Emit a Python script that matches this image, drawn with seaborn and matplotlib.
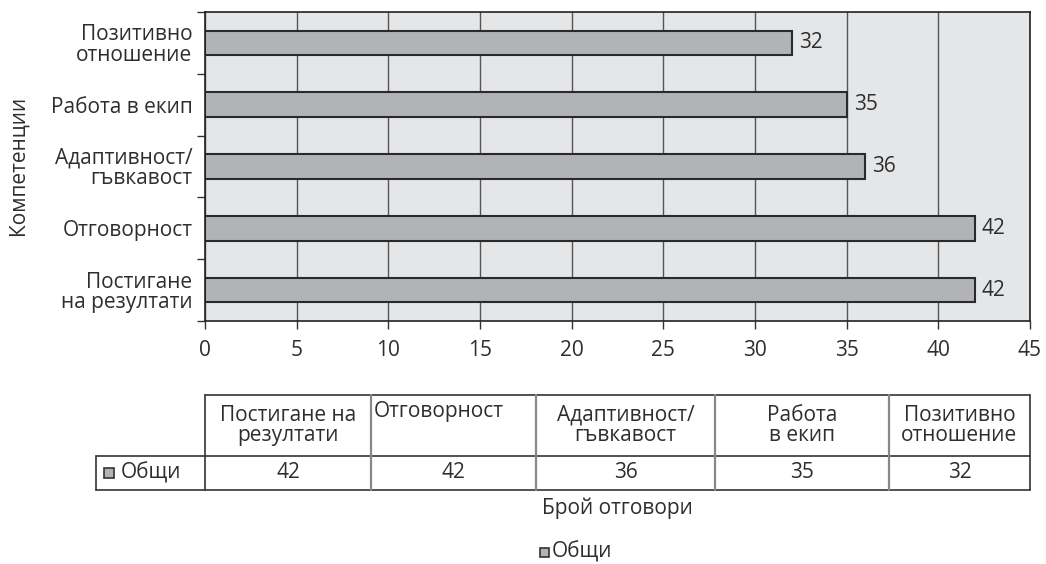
import matplotlib
matplotlib.use("Agg")
import matplotlib.pyplot as plt
from matplotlib.patches import Rectangle
from matplotlib.lines import Line2D
import seaborn as sns
import pandas as pd

# Competencies, listed from the top bar downwards
competencies = ["Позитивно\nотношение", "Работа в екип", "Адаптивност/\nгъвкавост",
                "Отговорност", "Постигане\nна резултати"]
counts = [32, 35, 36, 42, 42]

# Data table underneath (column order as in the table)
table_headers = ["Постигане на\nрезултати", "Отговорност", "Адаптивност/\nгъвкавост",
                 "Работа\nв екип", "Позитивно\nотношение"]
table_values = [42, 42, 36, 35, 32]
series_name = "Общи"
x_title = "Брой отговори"
y_title = "Компетенции"
x_ticks = list(range(0, 46, 5))

sns.set_theme(style="white")
plt.rcParams["font.family"] = ["Open Sans", "DejaVu Sans"]

BAR = "#b2b3b7"
EDGE = "#2a2a2a"
BG = "#e5e6e8"
TXT = "#2e2e2e"
FS = 15      # category / header text
NFS = 15     # numbers

W, H = 1046, 564
fig = plt.figure(figsize=(W / 100, H / 100), dpi=100)

# chart area in pixel coordinates
L, R, T, B = 205, 1030, 12, 321
ax = fig.add_axes([L / W, 1 - B / H, (R - L) / W, (B - T) / H])
ax.set_facecolor(BG)

df = pd.DataFrame({"competency": competencies, "count": counts})
sns.barplot(data=df, x="count", y="competency", orient="h", color=BAR,
            saturation=1, width=0.4, edgecolor=EDGE, linewidth=1.5, ax=ax)

ax.set_xlim(0, 45)
ax.set_ylim(len(competencies) - 0.5, -0.5)
ax.set_xticks(x_ticks)
ax.set_xticklabels([str(t) for t in x_ticks], fontsize=NFS, color=TXT)
ax.tick_params(axis="x", direction="out", length=6, width=1, color="#333", pad=8,
               bottom=True)
ax.set_yticks(range(len(competencies)))
ax.set_yticklabels(competencies, fontsize=FS, color=TXT, linespacing=0.95)
ax.tick_params(axis="y", length=0, pad=9)
ax.set_yticks([i + 0.5 for i in range(-1, len(competencies))], minor=True)
ax.tick_params(axis="y", which="minor", direction="out", length=6, width=1,
               color="#333", left=True)
ax.xaxis.grid(True, color="#555555", linewidth=1)
ax.set_axisbelow(True)
for side, sp in ax.spines.items():
    sp.set_visible(True)
    sp.set_color("#222")
    sp.set_linewidth(1.2)
ax.set_xlabel("")
ax.set_ylabel("")

for cont in ax.containers:
    ax.bar_label(cont, labels=[str(v) for v in counts], padding=5,
                 fontsize=NFS, color=TXT)

# overlay in pixel coordinates for the axis title, data table and legend
ov = fig.add_axes([0, 0, 1, 1])
ov.set_xlim(0, W)
ov.set_ylim(H, 0)
ov.axis("off")

ov.text(18, 165, y_title, rotation=90, ha="center", va="center", fontsize=FS,
        color=TXT)

col_edges = [205, 371, 536, 715, 889, 1030]
top, mid, bot = 395, 456, 490
label_left = 96
line_kw = dict(color="#333", linewidth=1.2)
vline_kw = dict(color="#888", linewidth=1.6)

ov.add_line(Line2D([col_edges[0], col_edges[-1]], [top, top], **line_kw))
ov.add_line(Line2D([label_left, col_edges[-1]], [mid, mid], **line_kw))
ov.add_line(Line2D([label_left, col_edges[-1]], [bot, bot], **line_kw))
ov.add_line(Line2D([label_left, label_left], [mid, bot], **line_kw))
ov.add_line(Line2D([col_edges[0], col_edges[0]], [top, bot], **line_kw))
ov.add_line(Line2D([col_edges[-1], col_edges[-1]], [top, bot], **line_kw))
for xe in col_edges[1:-1]:
    ov.add_line(Line2D([xe, xe], [top, bot], **vline_kw))

for i, (hdr, val) in enumerate(zip(table_headers, table_values)):
    cx = (col_edges[i] + col_edges[i + 1]) / 2
    if "\n" in hdr:
        ov.text(cx, (top + mid) / 2, hdr, ha="center", va="center", fontsize=FS,
                color=TXT, linespacing=0.95)
    else:
        ov.text(col_edges[i] + 3, 411, hdr, ha="left", va="center", fontsize=FS,
                color=TXT)
    ov.text(cx, (mid + bot) / 2, str(val), ha="center", va="center",
            fontsize=NFS, color=TXT)

# series key in the table row
ov.add_patch(Rectangle((104, 468), 10, 10, facecolor=BAR, edgecolor="#333", linewidth=1.2))
ov.text(121, (mid + bot) / 2, series_name, ha="left", va="center", fontsize=FS, color=TXT)

ov.text(617, 508, x_title, ha="center", va="center", fontsize=FS, color=TXT)

# legend
ov.add_patch(Rectangle((540, 548), 9, 9, facecolor=BAR, edgecolor="#333", linewidth=1.2))
ov.text(552, 552, series_name, ha="left", va="center", fontsize=FS, color=TXT)

fig.savefig("out.png", dpi=100, facecolor="white")
